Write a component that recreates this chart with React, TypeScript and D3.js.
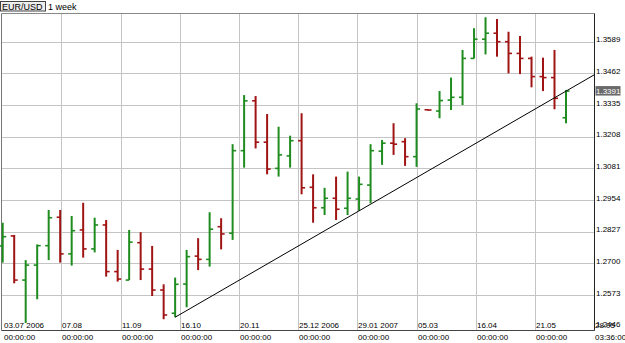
import React from "react";
import * as d3 from "d3";

// Weekly EUR/USD bars (03.07.2006 ... )
const opens = [1.2770,1.2810,1.2633,1.2693,1.2771,1.2885,1.2738,1.2834,1.2758,1.2854,1.2667,1.2633,1.2783,1.2677,1.2593,1.2500,1.2617,1.2729,1.2716,1.2847,1.2821,1.3152,1.3352,1.3186,1.3081,1.3131,1.3192,1.3005,1.2923,1.2961,1.2921,1.2958,1.3014,1.3150,1.3182,1.3188,1.3128,1.3316,1.3311,1.3355,1.3366,1.3522,1.3599,1.3623,1.3589,1.3542,1.3522,1.3449,1.3445,1.3284];
const highs = [1.2863,1.2814,1.2713,1.2776,1.2914,1.2914,1.2890,1.2943,1.2883,1.2874,1.2754,1.2834,1.2825,1.2770,1.2616,1.2643,1.2754,1.2801,1.2905,1.2881,1.3178,1.3375,1.3371,1.3299,1.3248,1.3212,1.3302,1.3057,1.3003,1.3048,1.3068,1.3048,1.3178,1.3195,1.3262,1.3202,1.3342,1.3317,1.3391,1.3445,1.3556,1.3643,1.3687,1.3680,1.3629,1.3612,1.3529,1.3525,1.3556,1.3395];
const lows = [1.2703,1.2620,1.2461,1.2556,1.2713,1.2703,1.2691,1.2723,1.2744,1.2647,1.2627,1.2633,1.2633,1.2569,1.2476,1.2484,1.2524,1.2673,1.2687,1.2756,1.2794,1.3084,1.3161,1.3057,1.3048,1.3084,1.2977,1.2863,1.2894,1.2874,1.2894,1.2911,1.2941,1.3095,1.3135,1.3091,1.3087,1.3313,1.3282,1.3315,1.3335,1.3522,1.3538,1.3529,1.3462,1.3459,1.3406,1.3391,1.3318,1.3262];
const closes = [1.2807,1.2633,1.2693,1.2771,1.2883,1.2738,1.2831,1.2758,1.2854,1.2667,1.2637,1.2785,1.2677,1.2593,1.2493,1.2616,1.2727,1.2716,1.2837,1.2818,1.3152,1.3352,1.3186,1.3078,1.3135,1.3192,1.3003,1.2923,1.2961,1.2917,1.2961,1.3017,1.3152,1.3182,1.3178,1.3128,1.3319,1.3315,1.3353,1.3366,1.3522,1.3599,1.3623,1.3589,1.3542,1.3522,1.3449,1.3445,1.3362,1.3391];

// price axis ticks
const yTicks = [1.3589, 1.3462, 1.3335, 1.3208, 1.3081, 1.2954, 1.2827, 1.2700, 1.2573, 1.2446];
const yTickLabels = ["1.3589","1.3462","1.3335","1.3208","1.3081","1.2954","1.2827","1.2700","1.2573","1.2446"];

// time axis ticks (positions in bar units)
const xTickPos = [0, 5.1, 10.27, 15.42, 20.58, 25.73, 30.85, 36.01, 41.14, 46.3];
const xTickDates = ["03.07 2006","07.08","11.09","16.10","20.11","25.12 2006","29.01 2007","05.03","16.04","21.05"];
const xTickTimes = ["00:00:00","00:00:00","00:00:00","00:00:00","00:00:00","00:00:00","00:00:00","00:00:00","00:00:00","00:00:00"];
const lastDate = "28.05";
const lastTime = "03:36:00";

// trend line anchors [bar index, price]
const trendIdx = [15, 48];
const trendPrice = [1.2484, 1.3364];

const symbol = "EUR/USD";
const period = "1 week";

const GREEN = "#1e8c1e";
const RED = "#a01414";
const GRID = "#c4c4c4";
const FONT = "'Liberation Sans', Arial, sans-serif";

export default function App() {
  const W = 625, H = 343;
  const left = 1.5, right = 594.5, top = 13.5, bottom = 330.5;
  const x = d3.scaleLinear().domain([0, 49]).range([2.7, 566]);
  const y = d3.scaleLinear().domain([1.2446, 1.3589]).range([326.7, 41.7]);

  // trendline extended to right border
  const slope = (trendPrice[1] - trendPrice[0]) / (trendIdx[1] - trendIdx[0]);
  const endIdx = x.invert(right);
  const endPrice = trendPrice[0] + slope * (endIdx - trendIdx[0]);
  const trend = d3.line<[number, number]>().x(d => x(d[0])).y(d => y(d[1]))([
    [trendIdx[0], trendPrice[0]],
    [endIdx, endPrice],
  ]);

  const lastClose = closes[closes.length - 1];

  return (
    <svg width={W} height={H} style={{ position: "absolute", left: 0, top: 0, background: "#fff" }}>
      <rect x={0} y={0} width={W} height={H} fill="#fff" />
      {/* grid */}
      {yTicks.slice(0, -1).map((t, i) => (
        <line key={"gy" + i} x1={left} x2={right} y1={Math.round(y(t)) + 0.5} y2={Math.round(y(t)) + 0.5} stroke={GRID} strokeWidth={1} />
      ))}
      {xTickPos.slice(1).map((t, i) => (
        <line key={"gx" + i} x1={Math.round(x(t)) + 0.5} x2={Math.round(x(t)) + 0.5} y1={top} y2={bottom} stroke={GRID} strokeWidth={1} />
      ))}
      {/* frame */}
      <line x1={left} x2={right} y1={top} y2={top} stroke="#888" strokeWidth={1} />
      <line x1={left} x2={left} y1={top} y2={bottom} stroke="#777" strokeWidth={1} />
      <line x1={left} x2={right} y1={bottom} y2={bottom} stroke="#444" strokeWidth={1} />
      <line x1={right} x2={right} y1={top} y2={bottom} stroke="#222" strokeWidth={1} />

      {/* bars */}
      {opens.map((o, i) => {
        const c = closes[i];
        const col = c > o ? GREEN : RED;
        const cx = x(i);
        return (
          <g key={"b" + i} stroke={col} strokeWidth={2}>
            <line x1={cx} x2={cx} y1={y(highs[i])} y2={y(lows[i])} />
            <line x1={cx - 3.5} x2={cx} y1={y(o)} y2={y(o)} strokeWidth={1.6} />
            <line x1={cx} x2={cx + 3.5} y1={y(c)} y2={y(c)} strokeWidth={1.6} />
          </g>
        );
      })}

      {/* trendline */}
      <path d={trend || ""} stroke="#000" strokeWidth={1} fill="none" />

      {/* price labels */}
      {yTicks.map((t, i) => (
        <text key={"yl" + i} x={596} y={y(t) + 0.5} fontSize={8} fontFamily={FONT} fill="#000">
          {yTickLabels[i]}
        </text>
      ))}
      <rect x={595.5} y={y(lastClose) - 5} width={25} height={9.5} fill="#6a6a6a" />
      <text x={596} y={y(lastClose) + 3} fontSize={8} fontFamily={FONT} fill="#fff">
        {d3.format(".4f")(lastClose)}
      </text>

      {/* time labels */}
      {xTickPos.map((t, i) => (
        <g key={"xl" + i}>
          <text x={Math.round(x(t)) + 1} y={328} fontSize={8} fontFamily={FONT} fill="#000">{xTickDates[i]}</text>
          <text x={Math.round(x(t)) + 1} y={340} fontSize={8} fontFamily={FONT} fill="#000">{xTickTimes[i]}</text>
        </g>
      ))}
      <text x={595} y={328} fontSize={8} fontFamily={FONT} fill="#000">{lastDate}</text>
      <text x={595} y={340} fontSize={8} fontFamily={FONT} fill="#000">{lastTime}</text>

      {/* title */}
      <rect x={0.5} y={1.5} width={45} height={9.5} fill="#eee" stroke="#444" strokeWidth={1} />
      <text x={2} y={10} fontSize={9} fontFamily={FONT} fill="#000">{symbol}</text>
      <text x={48} y={10} fontSize={9} fontFamily={FONT} fill="#000">{period}</text>
    </svg>
  );
}
